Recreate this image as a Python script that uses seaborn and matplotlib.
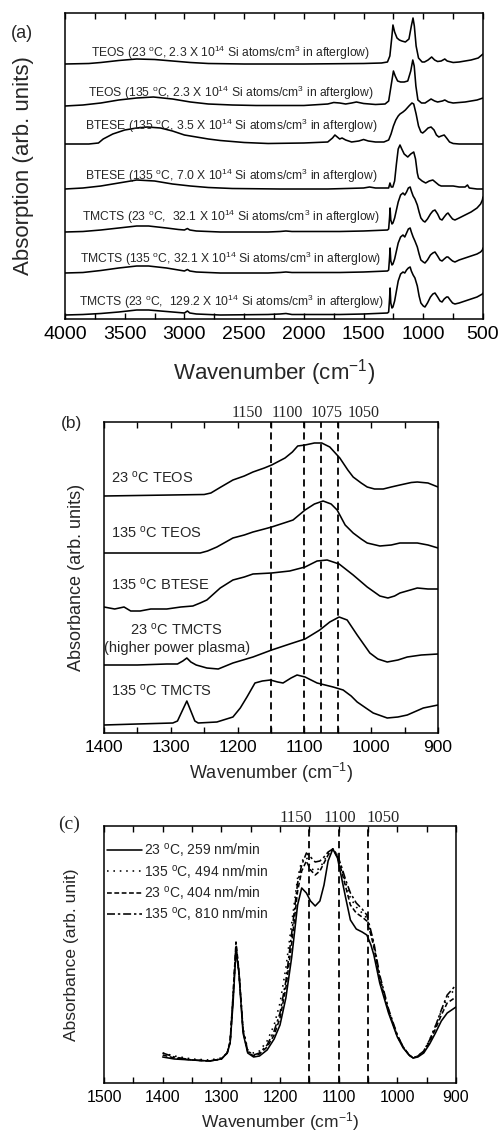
import matplotlib
matplotlib.use("Agg")
import matplotlib.pyplot as plt
import seaborn as sns
from matplotlib.ticker import MultipleLocator

# ---------------- data: panel (a) ----------------
DEG = r"$^{\mathregular{o}}$C"
A_LABELS = [
    "TEOS (23 " + DEG + ", 2.3 X 10$^{14}$ Si atoms/cm$^{3}$ in afterglow)",
    "TEOS (135 " + DEG + ", 2.3 X 10$^{14}$ Si atoms/cm$^{3}$ in afterglow)",
    "BTESE (135 " + DEG + ", 3.5 X 10$^{14}$ Si atoms/cm$^{3}$ in afterglow)",
    "BTESE (135 " + DEG + ", 7.0 X 10$^{14}$ Si atoms/cm$^{3}$ in afterglow)",
    "TMCTS (23 " + DEG + ",  32.1 X 10$^{14}$ Si atoms/cm$^{3}$ in afterglow)",
    "TMCTS (135 " + DEG + ", 32.1 X 10$^{14}$ Si atoms/cm$^{3}$ in afterglow)",
    "TMCTS (23 " + DEG + ",  129.2 X 10$^{14}$ Si atoms/cm$^{3}$ in afterglow)",
]
A_OFFSETS = [255, 213, 175, 130, 87, 46, 4]
A_TEXT_Y = [266, 226, 193, 143, 102, 60, 17]

TEOS23_W = [4000, 3800, 3700, 3550, 3400, 3250, 3100, 2950, 2800, 2500, 2000, 1500, 1350, 1300, 1280,
            1265, 1254, 1240, 1220, 1200, 1180, 1150, 1120, 1100, 1086, 1075, 1060, 1040, 1010, 990,
            960, 930, 905, 880, 850, 820, 800, 750, 700, 650, 600, 540, 500]
TEOS23_A = [0, 0.5, 1.5, 3.5, 5, 4.5, 3, 1.5, 0.5, 0, 0, 0.5, 1, 2, 8,
            25, 39, 32, 26, 24, 23, 22, 25, 38, 46, 38, 18, 6, 2, 2,
            4, 7, 4, 2.5, 3, 5, 3, 1.5, 2, 3, 4, 6, 10]

TEOS135_W = [4000, 3850, 3700, 3550, 3400, 3260, 3100, 2950, 2800, 2600, 2400, 2000, 1800, 1750, 1700,
             1650, 1600, 1560, 1500, 1400, 1320, 1290, 1270, 1250, 1235, 1215, 1190, 1160, 1130, 1105,
             1088, 1076, 1062, 1045, 1015, 985, 960, 935, 905, 880, 840, 820, 790, 750, 650, 550, 500]
TEOS135_A = [0, 1, 3, 6, 8, 9, 7, 4, 2, 1, 0.5, 0.5, 2, 3.5, 3,
             2, 3, 4, 2.5, 1.5, 2, 5, 20, 35, 30, 25, 24, 24, 25, 35,
             46, 40, 20, 6, 3, 3, 5, 7, 5, 4, 5, 6, 4, 3, 4, 6, 8]

BTESE35_W = [4000, 3800, 3720, 3680, 3600, 3500, 3400, 3310, 3200, 3100, 3000, 2900, 2800, 2700, 2500,
             2300, 2000, 1800, 1760, 1740, 1720, 1700, 1680, 1650, 1600, 1540, 1500, 1460, 1400, 1330,
             1290, 1270, 1250, 1230, 1210, 1195, 1170, 1150, 1120, 1095, 1080, 1060, 1040, 1020, 1005,
             985, 960, 935, 910, 890, 870, 850, 825, 805, 780, 750, 700, 600, 500]
BTESE35_A = [0, 0, 1, 5, 10, 14, 16, 17, 16, 13, 9, 7, 5, 3.5, 1.5,
             0.5, 1, 2, 6, 9, 7, 5, 6, 4, 2, 3, 4.5, 3, 2, 2,
             4, 10, 18, 24, 28, 30, 32, 34, 38, 41, 40, 30, 18, 12, 11,
             13, 16, 17, 14, 9, 7, 8, 9, 6, 2, 0.5, 0, 0, 0]

BTESE70_W = [4000, 3850, 3700, 3550, 3400, 3250, 3100, 2950, 2800, 2600, 2200, 1800, 1500, 1450, 1400,
             1300, 1290, 1279, 1268, 1255, 1240, 1225, 1210, 1195, 1180, 1160, 1130, 1105, 1080, 1065,
             1050, 1040, 1010, 980, 950, 920, 900, 870, 850, 800, 750, 700, 650, 630, 615, 550, 500]
BTESE70_A = [0, 1, 3, 6, 9, 8, 5, 3, 1.5, 0.5, 0, 0, 1, 2, 1,
             1, 1, 6, 2, 2, 8, 25, 40, 44, 40, 35, 32, 35, 37, 30,
             16, 11, 8, 6, 8, 9, 7, 4, 3, 3, 3, 2, 2, 4, 1, 0, 0]

TMCTS_W = [4000, 3850, 3700, 3550, 3400, 3300, 3150, 3050, 3000, 2975, 2955, 2900, 2700, 2300, 2200, 2150,
           2100, 1700, 1500, 1400, 1300, 1290, 1282, 1278, 1272, 1262, 1254, 1240, 1225, 1210, 1190, 1170,
           1155, 1140, 1125, 1110, 1100, 1085, 1070, 1050, 1035, 1020, 1000, 986, 965, 940, 920, 902,
           880, 860, 843, 825, 805, 793, 775, 755, 735, 700, 650, 600, 550, 520, 505, 500]
TMCTS23_A = [0, 0.5, 2, 4, 6, 6, 4, 2.5, 2, 3.5, 2, 1, 0, 0, 0.5, 1,
             0.5, 0.5, 1, 1.5, 2, 3, 15, 24, 12, 8, 9, 14, 22, 30, 37, 39,
             37, 40, 44, 45, 41, 36, 33, 27, 20, 14, 11, 10, 13, 18, 21, 22,
             18, 13, 12, 15, 18, 19, 16, 13, 12, 14, 17, 20, 24, 28, 32, 35]
TMCTS135_A = [0, 0.5, 2.5, 5, 7, 7, 5, 3, 2, 3.5, 2, 1, 0, 0, 0.5, 1,
              0.5, 0.5, 1, 1.5, 2, 3, 16, 25, 12, 8, 9, 14, 22, 30, 36, 38,
              36, 40, 44, 45, 41, 36, 32, 26, 19, 13, 11, 10, 13, 18, 20, 21,
              17, 13, 12, 14, 16, 16, 14, 12, 11, 13, 15, 17, 19, 21, 23, 25]
TMCTS129_A = [0, 0.5, 1.5, 3, 5, 5, 3.5, 2.5, 2, 4, 2, 1, 0, 0.5, 1, 1.5,
              0.5, 0.5, 1, 1.5, 2, 3, 17, 27, 12, 7, 8, 14, 24, 34, 41, 43,
              42, 45, 47, 48, 44, 40, 37, 29, 19, 12, 9, 8, 12, 18, 21, 22,
              18, 14, 13, 16, 18, 18, 15, 12, 11, 12, 14, 16, 18, 20, 21, 22]

A_SPECTRA = [(TEOS23_W, TEOS23_A), (TEOS135_W, TEOS135_A), (BTESE35_W, BTESE35_A),
             (BTESE70_W, BTESE70_A), (TMCTS_W, TMCTS23_A), (TMCTS_W, TMCTS135_A),
             (TMCTS_W, TMCTS129_A)]

# ---------------- data: panel (b) ----------------
B_LABELS = ["23 " + DEG + " TEOS", "135 " + DEG + " TEOS", "135 " + DEG + " BTESE",
            "23 " + DEG + " TMCTS\n(higher power plasma)", "135 " + DEG + " TMCTS"]
B_TEXT_Y = [255, 200, 148, 95, 42]
B_MARKS = [1150, 1100, 1075, 1050]
B_MARK_LABELS = ["1150", "1100", "1075", "1050"]
B_MARK_LABEL_X = [1186, 1126, 1066, 1011]

B_TEOS23_W = [1400, 1300, 1250, 1240, 1225, 1207, 1190, 1177, 1160, 1149, 1129, 1118, 1110, 1099, 1085,
              1074, 1062, 1047, 1035, 1027, 1015, 1006, 995, 982, 970, 957, 940, 931, 915, 900]
B_TEOS23_A = [237, 238, 238.5, 240, 246, 253, 257, 261, 265, 268, 275, 281, 287, 288, 290,
              290, 286, 275, 263, 256, 250, 246, 244, 244, 246, 248, 250.5, 251, 250, 246]
B_TEOS135_W = [1400, 1300, 1256, 1245, 1231, 1207, 1190, 1177, 1160, 1149, 1126, 1117, 1108, 1099,
               1085, 1072, 1060, 1051, 1039, 1027, 1015, 1006, 987, 970, 957, 931, 915, 900]
B_TEOS135_A = [180, 180, 180, 182, 186, 195, 198, 201, 204, 206, 211, 213, 218, 223,
               229, 232, 229, 223, 208, 200, 194, 190, 187, 188, 190, 190, 188, 185]
B_BTESE_W = [1400, 1384, 1370, 1360, 1346, 1330, 1306, 1285, 1267, 1256, 1246, 1236, 1226, 1207, 1190,
             1177, 1149, 1122, 1099, 1081, 1066, 1048, 1027, 1006, 987, 975, 965, 957, 931, 915, 900]
B_BTESE_A = [126, 124, 126, 122, 122, 124, 124, 126, 127, 130, 133, 139, 145, 153, 156,
             159, 160, 162, 166, 172, 173, 169, 158, 146, 137, 135, 137, 140, 145, 144, 144]
B_TMCTS23_W = [1400, 1350, 1306, 1290, 1282, 1276, 1270, 1262, 1246, 1229, 1207, 1177, 1149, 1122,
               1099, 1077, 1062, 1048, 1036, 1021, 1002, 990, 976, 960, 946, 925, 900]
B_TMCTS23_A = [68, 68, 69, 69, 72, 75, 71, 68, 65, 64, 70, 76, 83, 89,
               94, 103, 111, 116, 113, 98, 80, 74, 71, 73, 76, 78, 79]
B_TMCTS135_W = [1400, 1350, 1297, 1290, 1283, 1276, 1270, 1264, 1259, 1231, 1207, 1196, 1186, 1174,
                1163, 1151, 1140, 1132, 1120, 1111, 1099, 1081, 1057, 1042, 1030, 1021, 1008, 997,
                976, 960, 946, 922, 900]
B_TMCTS135_A = [8, 9, 10, 12, 22, 32, 22, 12, 10, 11, 16, 25, 36, 50,
                52, 53, 51, 50, 55, 58, 56, 50, 46, 43, 37, 31, 25, 20,
                15, 16, 18, 25, 28]
B_SPECTRA = [(B_TEOS23_W, B_TEOS23_A), (B_TEOS135_W, B_TEOS135_A), (B_BTESE_W, B_BTESE_A),
             (B_TMCTS23_W, B_TMCTS23_A), (B_TMCTS135_W, B_TMCTS135_A)]

# ---------------- data: panel (c) ----------------
C_W = [1400, 1380, 1350, 1320, 1300, 1290, 1285, 1280, 1275, 1270, 1263, 1255, 1245, 1235, 1222,
       1210, 1200, 1190, 1180, 1170, 1163, 1155, 1148, 1140, 1132, 1125, 1118, 1110, 1102, 1095,
       1088, 1080, 1070, 1060, 1052, 1045, 1040, 1030, 1015, 1000, 990, 980, 973, 965, 955,
       945, 935, 925, 915, 900]
C_23_259 = [26, 24, 23, 22, 24, 30, 40, 80, 133, 110, 50, 30, 26, 27, 33,
            44, 58, 85, 126, 178, 195, 190, 182, 177, 182, 198, 222, 234, 225, 205,
            185, 163, 154, 151, 148, 138, 128, 100, 70, 46, 35, 28, 25, 26, 30,
            39, 50, 62, 70, 76]
C_135_494 = [30, 27, 24, 23, 25, 30, 40, 85, 135, 110, 55, 33, 30, 32, 42,
             58, 80, 115, 160, 205, 222, 226, 215, 212, 215, 222, 230, 234, 228, 215,
             200, 185, 176, 170, 165, 150, 138, 106, 73, 47, 36, 28, 25, 27, 32,
             43, 57, 72, 85, 95]
C_23_404 = [28, 25, 23, 22, 24, 30, 42, 88, 141, 112, 52, 31, 27, 29, 36,
            48, 65, 95, 140, 192, 212, 222, 213, 208, 212, 220, 228, 234, 226, 212,
            196, 178, 170, 166, 162, 148, 136, 104, 72, 47, 36, 28, 25, 27, 31,
            41, 54, 68, 80, 86]
C_135_810 = [30, 26, 23, 22, 24, 30, 41, 86, 138, 111, 53, 32, 28, 30, 38,
             52, 70, 102, 150, 200, 218, 230, 226, 221, 222, 226, 231, 234, 228, 216,
             203, 190, 180, 174, 168, 152, 140, 108, 74, 48, 36, 28, 25, 27, 32,
             43, 57, 73, 88, 98]
C_LABELS = ["23 " + DEG + ", 259 nm/min", "135 " + DEG + ", 494 nm/min",
            "23 " + DEG + ", 404 nm/min", "135 " + DEG + ", 810 nm/min"]
C_SERIES = [C_23_259, C_135_494, C_23_404, C_135_810]
C_STYLES = ["-", (0, (1, 3)), (0, (3, 1.6)), (0, (5, 1.8, 1.5, 1.8))]
C_MARKS = [1150, 1100, 1050]
C_MARK_LABELS = ["1150", "1100", "1050"]
C_MARK_LABEL_X = [1173, 1098, 1024]

# ---------------- style ----------------
sns.set_theme(style="white")
plt.rcParams['font.family'] = ['Liberation Sans', 'DejaVu Sans']
plt.rcParams['mathtext.fontset'] = 'custom'
plt.rcParams['mathtext.rm'] = 'Liberation Sans'
plt.rcParams['mathtext.it'] = 'Liberation Sans:italic'
plt.rcParams['mathtext.bf'] = 'Liberation Sans:bold'
plt.rcParams['axes.edgecolor'] = 'black'
plt.rcParams['axes.linewidth'] = 1.1

LW = 1.15
XLAB = r"Wavenumber (cm$^{\mathregular{-1}}$)"

fig = plt.figure(figsize=(4.99, 11.35), dpi=100)


def style_axes(ax, major, minor, labelsize, tl=4):
    ax.xaxis.set_major_locator(MultipleLocator(major))
    ax.xaxis.set_minor_locator(MultipleLocator(minor))
    ax.set_yticks([])
    ax.tick_params(axis='x', which='both', direction='in', top=True, bottom=True,
                   length=tl, width=1.0, color='black', labelsize=labelsize, pad=5,
                   labelcolor='black')
    for s in ax.spines.values():
        s.set_color('black')
        s.set_linewidth(1.1)


def line(ax, w, a, **kw):
    sns.lineplot(x=w, y=a, ax=ax, sort=False, estimator=None, color='black', lw=LW, **kw)


# ---------------- panel (a) ----------------
axa = fig.add_axes([65 / 499, 1 - 319 / 1135, 418 / 499, 306 / 1135])
for (w, a), off in zip(A_SPECTRA, A_OFFSETS):
    line(axa, w, [v + off for v in a])
for lab, ty in zip(A_LABELS, A_TEXT_Y):
    axa.text(2610, ty, lab, ha='center', va='center', fontsize=8.7)
axa.set_xlim(4000, 500)
axa.set_ylim(0, 306)
style_axes(axa, 500, 250, 14)
axa.set_xlabel(XLAB, fontsize=16, labelpad=10)
axa.set_ylabel("Absorption (arb. units)", fontsize=16, labelpad=22)
fig.text(22 / 499, 1 - 33 / 1135, "(a)", fontsize=13, ha='center', va='center')

# ---------------- panel (b) ----------------
axb = fig.add_axes([104 / 499, 1 - 733 / 1135, 334 / 499, 311 / 1135])
for w, a in B_SPECTRA:
    line(axb, w, a)
for m in B_MARKS:
    axb.axvline(m, color='black', lw=1.3, ls=(0, (4, 2.5)))
for i, (lab, ty) in enumerate(zip(B_LABELS, B_TEXT_Y)):
    if "\n" in lab:
        axb.text(1291, ty, lab, ha='center', va='center', fontsize=10.5, linespacing=1.3)
    else:
        axb.text(1390, ty, lab, ha='left', va='center', fontsize=10.5)
for lx, lab in zip(B_MARK_LABEL_X, B_MARK_LABELS):
    axb.text(lx, 1.002, lab, transform=axb.get_xaxis_transform(), ha='center', va='bottom',
             fontsize=11.5, family='Liberation Serif')
axb.set_xlim(1400, 900)
axb.set_ylim(0, 311)
style_axes(axb, 100, 50, 12.5)
axb.set_xlabel(XLAB, fontsize=13, labelpad=4)
axb.set_ylabel("Absorbance (arb. units)", fontsize=13, labelpad=14)
fig.text(72 / 499, 1 - 423 / 1135, "(b)", fontsize=12.5, ha='center', va='center')

# ---------------- panel (c) ----------------
axc = fig.add_axes([104 / 499, 1 - 1083 / 1135, 352 / 499, 257 / 1135])
for series, lab, st in zip(C_SERIES, C_LABELS, C_STYLES):
    line(axc, C_W, series, label=lab, linestyle=st)
for m in C_MARKS:
    axc.axvline(m, color='black', lw=1.3, ls=(0, (4, 2.5)))
for lx, lab in zip(C_MARK_LABEL_X, C_MARK_LABELS):
    axc.text(lx, 1.0, lab, transform=axc.get_xaxis_transform(), ha='center', va='bottom',
             fontsize=12, family='Liberation Serif')
axc.set_xlim(1500, 900)
axc.set_ylim(0, 257)
style_axes(axc, 100, 50, 11.5)
axc.set_xlabel(XLAB, fontsize=12.5, labelpad=4)
axc.set_ylabel("Absorbance (arb. unit)", fontsize=12.5, labelpad=18)
leg = axc.legend(loc='upper left', bbox_to_anchor=(0.0, 0.955), frameon=False, fontsize=10,
                 handlelength=2.45, handletextpad=0.2, labelspacing=0.25, borderaxespad=0.0,
                 borderpad=0.25)
for h in leg.legend_handles:
    h.set_color('black')
fig.text(69 / 499, 1 - 824 / 1135, "(c)", fontsize=14, ha='center', va='center',
         family='Liberation Serif')

fig.savefig("out.png", dpi=100)
